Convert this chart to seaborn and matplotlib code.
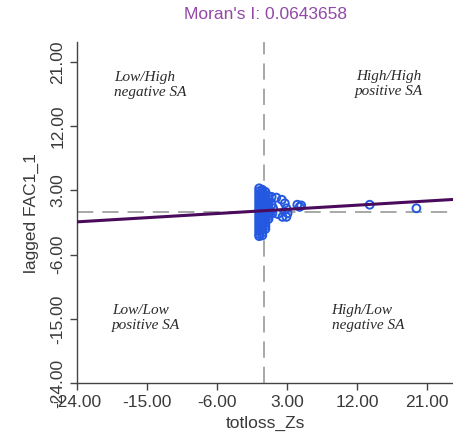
import matplotlib
matplotlib.use("Agg")
import matplotlib.pyplot as plt
import seaborn as sns
import pandas as pd

blob_x = [-0.6, -0.6, -0.6, -0.6, -0.6, -0.6, -0.6, -0.6, -0.6, -0.6, -0.6, -0.6,
          -0.6, -0.6, -0.6, -0.6, -0.6, -0.6,
          -0.2, -0.2, -0.2, -0.2, -0.2, -0.2, -0.2, -0.2, -0.2, -0.2, -0.2, -0.2,
          -0.2, -0.2, -0.2, -0.2, -0.2,
          0.2, 0.2, 0.2, 0.2, 0.2, 0.2, 0.2, 0.2, 0.2, 0.2, 0.2, 0.2, 0.2, 0.2,
          0.6, 0.6, 0.6, 0.6, 0.6, 0.6, 0.6, 0.6, 0.6,
          1.0, 1.1, 1.2]
blob_y = [3.3, 2.9, 2.5, 2.1, 1.7, 1.3, 0.9, 0.5, 0.1, -0.3, -0.7, -1.1,
          -1.5, -1.9, -2.3, -2.7, -3.1, -3.4,
          3.1, 2.7, 2.3, 1.9, 1.5, 1.1, 0.7, 0.3, -0.1, -0.5, -0.9, -1.3,
          -1.7, -2.1, -2.5, -2.9, -3.3,
          2.8, 2.4, 2.0, 1.6, 1.2, 0.8, 0.4, 0.0, -0.4, -0.8, -1.2, -1.6, -2.0, -2.4,
          2.2, 1.8, 1.4, 1.0, 0.6, 0.2, -0.2, -0.6, -1.0,
          1.0, -0.2, 0.5]
# sparser points to the right
outer_x = [1.0, 1.6, 2.3, 2.7, 2.9, 3.05, 2.9, 2.4, 1.8, 4.3, 4.6, 4.8, 13.6, 19.6]
outer_y = [2.1, 2.0, 1.7, 1.2, 0.5, -0.2, -0.7, -0.7, -0.3, 1.0, 0.7, 0.9, 1.0, 0.5]

# regression line endpoints (slope = Moran's I)
line_x = [-24.0, 24.5]
line_y = [-1.4, 1.75]

ticks = [-24, -15, -6, 3, 12, 21]
tick_labels = ["-24.00", "-15.00", "-6.00", "3.00", "12.00", "21.00"]

df = pd.DataFrame({"x": blob_x + outer_x, "y": blob_y + outer_y})

sns.set_style("white")
plt.rcParams["font.family"] = ["Liberation Sans", "DejaVu Sans"]

fig = plt.figure(figsize=(4.53, 4.48), dpi=100)
ax = fig.add_axes([0.170, 0.145, 0.830, 0.761])

blue = "#2458e0"
sns.scatterplot(data=df, x="x", y="y", marker="o", s=32, facecolor="none",
                edgecolor=blue, linewidth=1.4, ax=ax, zorder=3)

ax.axvline(0, color="#a0a0a0", lw=1.3, ls=(0, (9, 5)), zorder=1)
ax.axhline(0, color="#a0a0a0", lw=1.3, ls=(0, (9, 5)), zorder=1)
sns.lineplot(x=line_x, y=line_y, color="#4b0b5c", lw=2.2, ax=ax, zorder=4)

ax.set_xlim(-24, 24.3)
ax.set_ylim(-24, 23.8)
ax.set_xticks(ticks)
ax.set_xticklabels(tick_labels)
ax.set_yticks(ticks)
ax.set_yticklabels(tick_labels, rotation=90, va="center")
ax.tick_params(direction="out", length=5, width=1, color="#444444",
               labelcolor="#3a3a3a", labelsize=12.5, left=True, bottom=True)
for side in ["top", "right"]:
    ax.spines[side].set_visible(False)
for side in ["left", "bottom"]:
    ax.spines[side].set_color("#444444")
    ax.spines[side].set_linewidth(1)

ax.set_xlabel("totloss_Zs", fontsize=12.5, color="#3a3a3a", labelpad=4)
ax.set_ylabel("lagged FAC1_1", fontsize=12.5, color="#3a3a3a", labelpad=8)
ax.set_title("Moran's I: 0.0643658", fontsize=12.5, color="#9347a8", pad=17)

quad = dict(family=["Liberation Serif"], style="italic", fontsize=11,
            color="#2a2a2a", linespacing=1.25)
ax.text(-19.2, 17.8, "Low/High\nnegative SA", ha="left", va="center", **quad)
ax.text(16.1, 17.9, "High/High\npositive SA", ha="center", va="center", **quad)
ax.text(-19.5, -14.9, "Low/Low\npositive SA", ha="left", va="center", **quad)
ax.text(8.7, -14.9, "High/Low\nnegative SA", ha="left", va="center", **quad)

fig.savefig("out.png", dpi=100)
